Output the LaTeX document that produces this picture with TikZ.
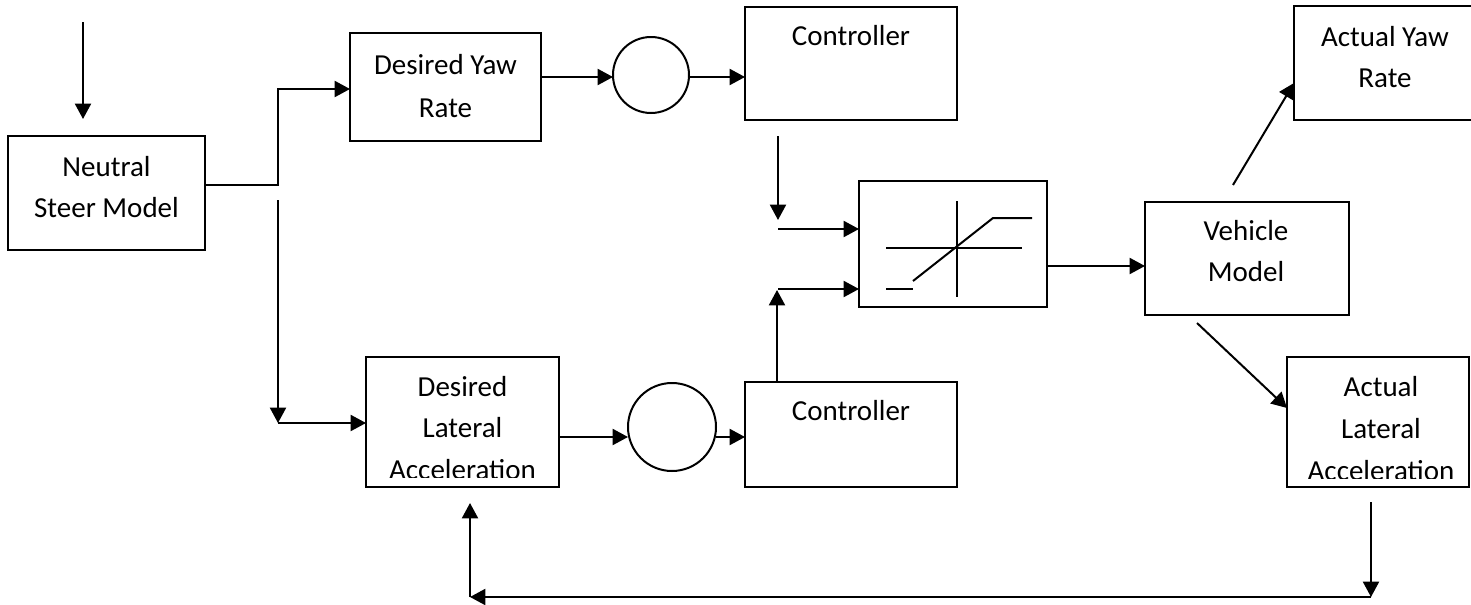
\documentclass[tikz,border=0pt]{standalone}
\usepackage{fontspec}
\setmainfont{Carlito}
\usetikzlibrary{arrows.meta}
\tikzset{
  blk/.style={draw, line width=1.5pt, rectangle, inner sep=0pt, outer sep=0pt},
  sumc/.style={draw, line width=1.5pt, circle, inner sep=0pt, outer sep=0pt},
  lbl/.style={anchor=base, inner sep=0pt, font=\fontsize{21.75pt}{26pt}\selectfont},
  arr/.style={line width=1.5pt, -{Triangle[length=11.5pt, width=12pt]}},
  ln/.style={line width=1.5pt},
}
\begin{document}
\begin{tikzpicture}[x=0.75pt, y=-0.75pt]
\useasboundingbox (0,0) rectangle (1471,604);

% blocks
\node[blk, minimum width=147.75pt, minimum height=85.5pt] (nsm) at (106.5,193) {};
\node[blk, minimum width=143.25pt, minimum height=81pt] (dyr) at (445.5,87) {};
\node[blk, minimum width=144.75pt, minimum height=97.5pt] (dla) at (462.5,422) {};
\node[blk, minimum width=159pt, minimum height=84.75pt] (ctrlA) at (851,63.5) {};
\node[blk, minimum width=159pt, minimum height=78.75pt] (ctrlB) at (851,434.5) {};
\node[blk, minimum width=141pt, minimum height=94.5pt] (sat) at (953,244) {};
\node[blk, minimum width=153pt, minimum height=84.75pt] (veh) at (1247,258.5) {};
\node[blk, minimum width=136.5pt, minimum height=85.5pt] (ayr) at (1385,63) {};
\node[blk, minimum width=136.5pt, minimum height=97.5pt] (ala) at (1378,422) {};
\node[sumc, minimum size=57pt] (c1) at (651,75) {};
\node[sumc, minimum size=66pt] (c2) at (672,427) {};

% block labels
\node[lbl] (nsm-a) at (106.5,176) {Neutral};
\node[lbl] (nsm-b) at (106.5,217) {Steer Model};
\node[lbl] (dyr-a) at (445.5,74) {Desired Yaw};
\node[lbl] (dyr-b) at (445.5,117) {Rate};
\node[lbl] (ctrlA-a) at (851,45) {Controller};
\node[lbl] (ctrlB-a) at (851,420) {Controller};
\node[lbl] (veh-a) at (1246,240) {Vehicle};
\node[lbl] (veh-b) at (1246,281) {Model};
\node[lbl] (ayr-a) at (1385,46) {Actual Yaw};
\node[lbl] (ayr-b) at (1385,87) {Rate};
\node[lbl] (dla-a) at (462.5,396) {Desired};
\node[lbl] (dla-b) at (462.5,437) {Lateral};
\begin{scope}
  \clip (366,357) rectangle (559,477);
  \node[lbl] (dla-c) at (462.5,479) {Acceleration};
\end{scope}
\node[lbl] (ala-a) at (1381,396) {Actual};
\node[lbl] (ala-b) at (1381,438) {Lateral};
\begin{scope}
  \clip (1287,357) rectangle (1469,478);
  \node[lbl] (ala-c) at (1381,480) {Acceleration};
\end{scope}

% saturation characteristic
\draw[ln] (957,201) -- (957,297);
\draw[ln] (886,248) -- (1022,248);
\draw[ln] (913,281) -- (993,218) -- (1032,218);
\draw[ln] (886,289) -- (913,289);

% signal points
\coordinate (in0) at (83,22);
\coordinate (in0e) at (83,119);
\coordinate (j1) at (278,185);
\coordinate (j2) at (278,89);
\coordinate (j3) at (278,200);
\coordinate (j4) at (278,423);
\coordinate (yA) at (0,77);
\coordinate (d1) at (778,136);
\coordinate (d1e) at (778,220);
\coordinate (s1) at (778,229);
\coordinate (u1) at (777,290);
\coordinate (s2) at (778,289);
\coordinate (yB) at (0,266);
\coordinate (v1) at (1233,185);
\coordinate (yC) at (0,83);
\coordinate (v2) at (1197,323);
\coordinate (yD) at (0,408);
\coordinate (f1) at (1371,502);
\coordinate (f2) at (1371,597);
\coordinate (f3) at (470,597);
\coordinate (f4) at (470,503);
\coordinate (yE) at (0,437);

% connectors
\draw[arr] (in0) -- (in0e);
\draw[arr] (nsm.east |- j1) -- (j1) -- (j2) -- (dyr.west |- j2);
\draw[arr] (j3) -- (j4);
\draw[arr] (j4) -- (dla.west |- j4);
\draw[arr] (dyr.east |- yA) -- (c1.west |- yA);
\draw[arr] (c1.east |- yA) -- (ctrlA.west |- yA);
\draw[arr] (d1) -- (d1e);
\draw[arr] (s1) -- (sat.west |- s1);
\draw[arr] (ctrlB.north -| u1) -- (u1);
\draw[arr] (s2) -- (sat.west |- s2);
\draw[arr] (sat.east |- yB) -- (veh.west |- yB);
\draw[arr] (v1) -- (ayr.west |- yC);
\draw[arr] (v2) -- (ala.west |- yD);
\draw[arr] (f1) -- (f2);
\draw[arr] (f2) -- (f3);
\draw[arr] (f3) -- (f4);
\draw[arr] (dla.east |- yE) -- (c2.west |- yE);
\draw[arr] (c2.east |- yE) -- (ctrlB.west |- yE);
\end{tikzpicture}
\end{document}
